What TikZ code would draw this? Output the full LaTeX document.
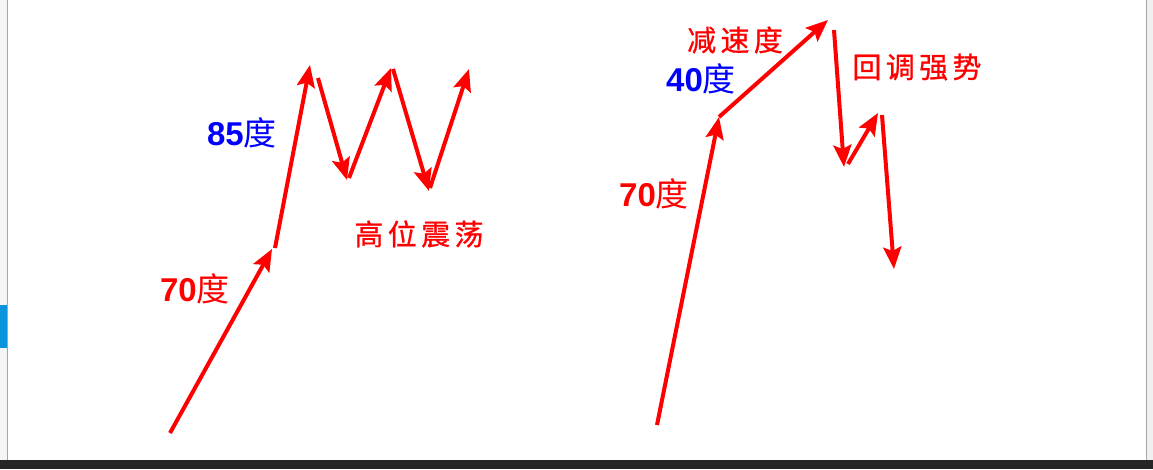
\documentclass[tikz,border=0pt]{standalone}
\usepackage{fontspec}
\setmainfont{Liberation Sans}
\newfontfamily\cjk{Noto Sans CJK SC}
\newfontfamily\cjkwide[LetterSpace=15, FakeBold=0.8]{Noto Sans CJK SC}
\usetikzlibrary{arrows.meta}

\begin{document}
\begin{tikzpicture}[x=1pt, y=-1pt,
    trend/.style={draw=red, line width=4pt, -{Stealth[length=22pt, width=18pt, inset=4pt]}},
    lbl/.style={inner sep=0pt, font=\fontsize{33}{36}\selectfont},
    note/.style={inner sep=0pt, text=red, font=\cjkwide\fontsize{29}{32}\selectfont}
]
\useasboundingbox (0,0) rectangle (1153,469);
% screen frame
\fill[white] (0,0) rectangle (1153,469);
\fill[black!4] (0,0) rectangle (7,460);
\draw[black!35, line width=1.5pt] (7.5,0) -- (7.5,460);
\fill[cyan!80!blue] (0,305) rectangle (7,348);
\fill[black!6] (1146,0) rectangle (1153,469);
\draw[black!35, line width=1.5pt] (1146.5,0) -- (1146.5,469);
\fill[black!85] (0,460) rectangle (1153,469);

% left: high-level oscillation
\coordinate (l0) at (170,433);
\coordinate (l1) at (272,249);
\coordinate (l1b) at (275,248);
\coordinate (l2) at (310,65);
\coordinate (l2b) at (318,78);
\coordinate (l3) at (347,180);
\coordinate (l3b) at (349,178);
\coordinate (l4) at (391,68);
\coordinate (l4b) at (393,69);
\coordinate (l5) at (429,191);
\coordinate (l5b) at (430,188);
\coordinate (l6) at (469,69);

\draw[trend] (l0) -- (l1);
\draw[trend] (l1b) -- (l2);
\draw[trend] (l2b) -- (l3);
\draw[trend] (l3b) -- (l4);
\draw[trend] (l4b) -- (l5);
\draw[trend] (l5b) -- (l6);

\node[lbl, text=blue] (a85) at (242,133) {\bfseries 85{\mdseries\cjk 度}};
\node[lbl, text=red] (a70l) at (195,289) {\bfseries 70{\mdseries\cjk 度}};
\node[note] (osc) at (419,234) {高位震荡};

% right: deceleration and pullback
\coordinate (r0) at (657,425);
\coordinate (r1) at (719,117);
\coordinate (r2) at (828,20);
\coordinate (r3) at (834,30);
\coordinate (r4) at (844,167);
\coordinate (r5) at (848,164);
\coordinate (r6) at (878,113);
\coordinate (r7) at (882,115);
\coordinate (r8) at (894,269);

\draw[trend] (r0) -- (r1);
\draw[trend] (r1) -- (r2);
\draw[trend] (r3) -- (r4);
\draw[trend] (r5) -- (r6);
\draw[trend] (r7) -- (r8);

\node[lbl, text=red] (a70r) at (654,194) {\bfseries 70{\mdseries\cjk 度}};
\node[lbl, text=blue] (a40) at (701,79) {\bfseries 40{\mdseries\cjk 度}};
\node[note] (slow) at (735,40) {减速度};
\node[note] (pull) at (917,67) {回调强势};
\end{tikzpicture}
\end{document}
